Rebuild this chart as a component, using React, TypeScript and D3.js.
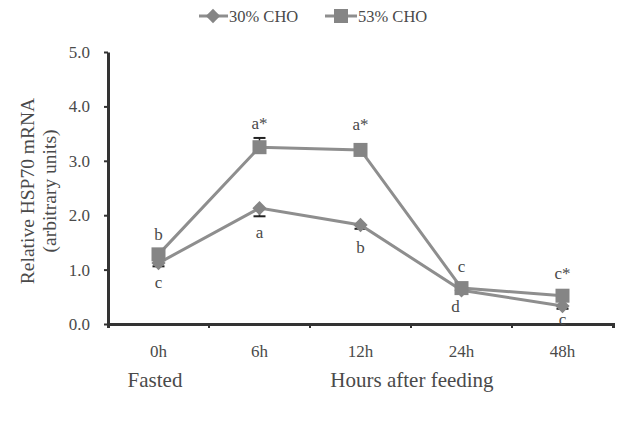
import React, { useEffect, useRef } from "react";
import * as d3 from "d3";

const times = ["0h", "6h", "12h", "24h", "48h"];
const cho30 = [1.12, 2.13, 1.82, 0.62, 0.33];
const cho53 = [1.28, 3.25, 3.2, 0.66, 0.52];
const err30 = [0.06, 0.15, 0.07, 0.03, 0.05];
const err53 = [0.05, 0.17, 0.04, 0.03, 0.05];
const letters30 = ["c", "a", "b", "d", "c"];
const letters53 = ["b", "a*", "a*", "c", "c*"];
const yTicks = [0, 1, 2, 3, 4, 5];

function App() {
  const ref = useRef<SVGSVGElement>(null);

  useEffect(() => {
    const svg = d3.select(ref.current);
    svg.selectAll("*").remove();

    const font = "'Liberation Serif', 'Times New Roman', serif";
    const textCol = "#4a4a4a";
    const lineCol = "#8e8e8e";
    const markCol = "#858585";
    const axisCol = "#333";

    const x = d3.scaleBand().domain(times).range([108, 613]);
    const y = d3.scaleLinear().domain([0, 5]).range([324, 52]);
    const cx = (d: string) => (x(d) as number) + x.bandwidth() / 2;

    // axes
    const gx = svg.append("g").attr("transform", "translate(0,324)")
      .call(d3.axisBottom(x).tickSize(4).tickFormat(() => ""));
    gx.select(".domain").attr("stroke", axisCol).attr("stroke-width", 3);
    gx.selectAll(".tick line").attr("stroke", axisCol).attr("stroke-width", 2)
      .attr("transform", `translate(${-x.bandwidth() / 2},0)`);
    svg.append("line").attr("x1", 613).attr("x2", 613).attr("y1", 324).attr("y2", 328)
      .attr("stroke", axisCol).attr("stroke-width", 2);

    const gy = svg.append("g").attr("transform", "translate(108,0)")
      .call(d3.axisLeft(y).tickValues(yTicks).tickSize(4).tickSizeOuter(0).tickFormat(() => ""));
    gy.select(".domain").attr("stroke", axisCol).attr("stroke-width", 3);
    gy.selectAll(".tick line").attr("stroke", axisCol).attr("stroke-width", 2);

    svg.selectAll(".ylab").data(yTicks).enter().append("text")
      .attr("x", 90).attr("y", (d) => y(d) + 6)
      .attr("text-anchor", "end").attr("font-family", font).attr("font-size", 17)
      .attr("fill", textCol).text((d) => d.toFixed(1));

    svg.selectAll(".xlab").data(times).enter().append("text")
      .attr("x", (d) => cx(d)).attr("y", 357)
      .attr("text-anchor", "middle").attr("font-family", font).attr("font-size", 17)
      .attr("fill", textCol).text((d) => d);

    svg.append("text").attr("x", 155).attr("y", 387).attr("text-anchor", "middle")
      .attr("font-family", font).attr("font-size", 21).attr("fill", textCol).text("Fasted");
    svg.append("text").attr("x", 412).attr("y", 387).attr("text-anchor", "middle")
      .attr("font-family", font).attr("font-size", 21).attr("fill", textCol).text("Hours after feeding");

    const yt = svg.append("g").attr("transform", "translate(0,191) rotate(-90)");
    yt.append("text").attr("x", 0).attr("y", 34).attr("text-anchor", "middle")
      .attr("font-family", font).attr("font-size", 19.5).attr("fill", textCol).text("Relative HSP70 mRNA");
    yt.append("text").attr("x", 0).attr("y", 56).attr("text-anchor", "middle")
      .attr("font-family", font).attr("font-size", 19.5).attr("fill", textCol).text("(arbitrary units)");

    const line = d3.line<number>().x((_, i) => cx(times[i])).y((d) => y(d));

    // error bars
    const drawErr = (vals: number[], errs: number[], dir: number) => {
      vals.forEach((v, i) => {
        const yy = y(v + dir * errs[i]);
        svg.append("line").attr("x1", cx(times[i])).attr("x2", cx(times[i]))
          .attr("y1", y(v)).attr("y2", yy).attr("stroke", "#222").attr("stroke-width", 1.5);
        svg.append("line").attr("x1", cx(times[i]) - 6).attr("x2", cx(times[i]) + 6)
          .attr("y1", yy).attr("y2", yy).attr("stroke", "#222").attr("stroke-width", 2);
      });
    };
    drawErr(cho53, err53, 1);
    drawErr(cho30, err30, -1);

    svg.append("path").datum(cho53).attr("d", line).attr("fill", "none")
      .attr("stroke", lineCol).attr("stroke-width", 3);
    svg.append("path").datum(cho30).attr("d", line).attr("fill", "none")
      .attr("stroke", lineCol).attr("stroke-width", 3);

    const diamond = d3.symbol().type(d3.symbolDiamond2).size(130);
    svg.selectAll(".d30").data(cho30).enter().append("path")
      .attr("d", diamond).attr("transform", (d, i) => `translate(${cx(times[i])},${y(d)})`)
      .attr("fill", markCol);
    svg.selectAll(".s53").data(cho53).enter().append("rect")
      .attr("x", (_, i) => cx(times[i]) - 7).attr("y", (d) => y(d) - 7)
      .attr("width", 14).attr("height", 14).attr("fill", markCol);

    // significance letters
    const above = [-12, -9, -18, -14, -14];
    svg.selectAll(".l53").data(letters53).enter().append("text")
      .attr("x", (_, i) => cx(times[i]))
      .attr("y", (_, i) => y(cho53[i] + err53[i]) + above[i])
      .attr("text-anchor", "middle").attr("font-family", font).attr("font-size", 17)
      .attr("fill", textCol).text((d) => d);
    const below = [22, 22, 24, 20, 16];
    const offX = [0, 0, 0, -6, 0];
    svg.selectAll(".l30").data(letters30).enter().append("text")
      .attr("x", (_, i) => cx(times[i]) + offX[i])
      .attr("y", (_, i) => y(cho30[i] - err30[i]) + below[i])
      .attr("text-anchor", "middle").attr("font-family", font).attr("font-size", 17)
      .attr("fill", textCol).text((d) => d);

    // legend
    const lg = svg.append("g");
    lg.append("line").attr("x1", 199).attr("x2", 228).attr("y1", 16).attr("y2", 16)
      .attr("stroke", lineCol).attr("stroke-width", 3);
    lg.append("path").attr("d", diamond).attr("transform", "translate(213,16)").attr("fill", markCol);
    lg.append("text").attr("x", 229).attr("y", 22).attr("font-family", font).attr("font-size", 16.5)
      .attr("fill", textCol).text("30% CHO");
    lg.append("line").attr("x1", 325).attr("x2", 357).attr("y1", 16).attr("y2", 16)
      .attr("stroke", lineCol).attr("stroke-width", 3);
    lg.append("rect").attr("x", 334).attr("y", 9).attr("width", 14).attr("height", 14).attr("fill", markCol);
    lg.append("text").attr("x", 358).attr("y", 22).attr("font-family", font).attr("font-size", 16.5)
      .attr("fill", textCol).text("53% CHO");
  }, []);

  return (
    <svg ref={ref} width={622} height={428}
      style={{ position: "absolute", left: 0, top: 0, background: "#fff" }} />
  );
}

export default App;
